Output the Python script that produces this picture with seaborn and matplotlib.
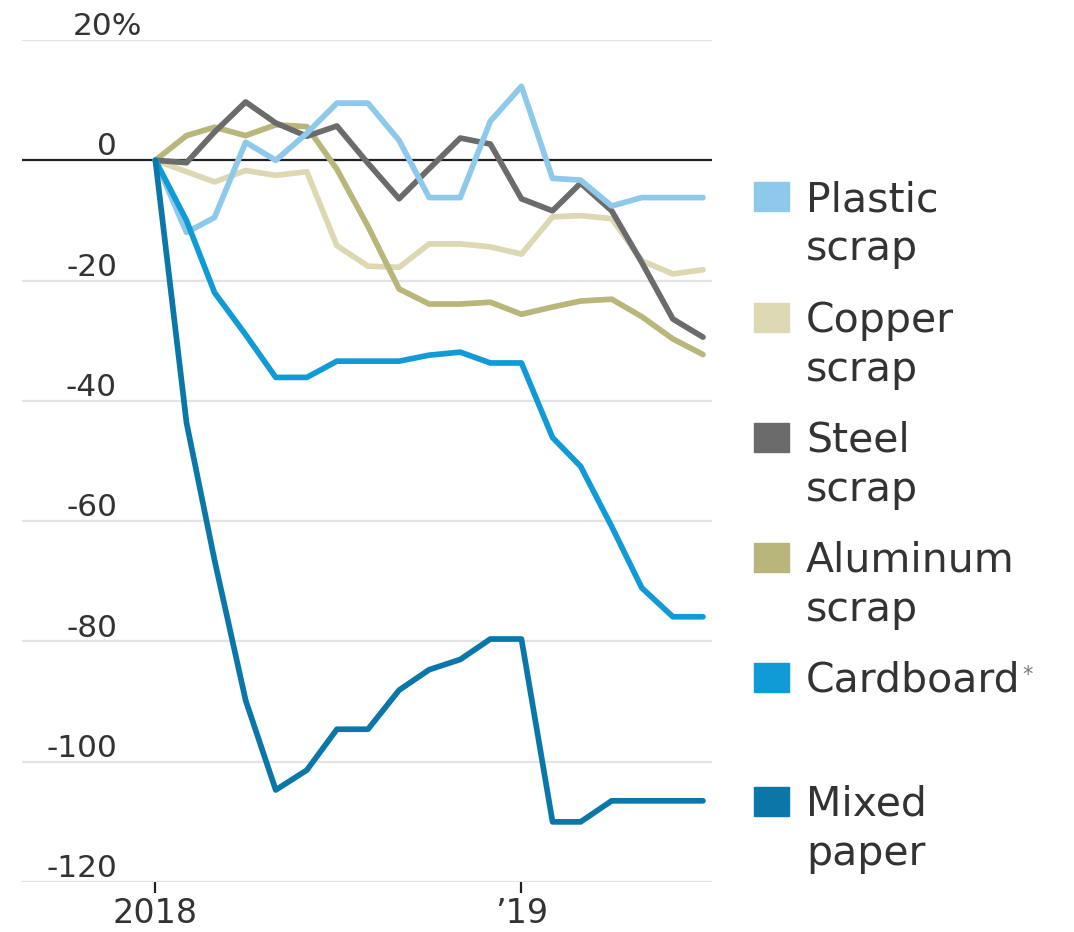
import numpy as np
import pandas as pd
import seaborn as sns
import matplotlib.pyplot as plt
from matplotlib.patches import Rectangle

# monthly change since January 2018, percent
months = pd.date_range('2018-01-01', periods=19, freq='MS')

plastic = [0, -12, -9.5, 3, 0, 4.5, 9.5, 9.5, 3.3, -6.2, -6.2, 6.5, 12.3, -3, -3.3, -7.6, -6.2, -6.2, -6.2]
copper = [0, -1.9, -3.6, -1.7, -2.5, -1.9, -14.2, -17.6, -17.8, -13.9, -13.9, -14.4, -15.6, -9.4, -9.2, -9.7, -16.7, -18.9, -18.2]
steel = [0, -0.4, 4.7, 9.7, 6.2, 4, 5.7, -0.5, -6.4, -1.4, 3.7, 2.7, -6.4, -8.4, -3.8, -8.4, -17, -26.4, -29.4]
aluminum = [0, 4.1, 5.5, 4.1, 5.9, 5.6, -1.5, -11, -21.4, -23.9, -23.9, -23.6, -25.6, -24.4, -23.4, -23.1, -26, -29.7, -32.3]
cardboard = [0, -10, -22, -29, -36.1, -36.1, -33.4, -33.4, -33.4, -32.4, -31.9, -33.7, -33.7, -46.1, -50.9, -60.9, -71.1, -75.9, -75.9]
mixed = [0, -43.6, -66.5, -89.8, -104.7, -101.4, -94.6, -94.6, -88.1, -84.7, -83, -79.6, -79.6, -110, -110, -106.5, -106.5, -106.5, -106.5]

materials = ['Copper scrap', 'Aluminum scrap', 'Steel scrap', 'Plastic scrap', 'Cardboard', 'Mixed paper']
series = [copper, aluminum, steel, plastic, cardboard, mixed]
colors = {'Plastic scrap': '#8ec9ec', 'Copper scrap': '#dcd8b4', 'Steel scrap': '#6b6b6b',
          'Aluminum scrap': '#b9b67c', 'Cardboard': '#119bd6', 'Mixed paper': '#0b77a8'}

y_ticks = [20, 0, -20, -40, -60, -80, -100, -120]

frames = []
for name, vals in zip(materials, series):
    frames.append(pd.DataFrame({'month': months, 'change': vals, 'material': name}))
df = pd.concat(frames, ignore_index=True)

sns.set_style('white')
plt.rcParams['font.family'] = ['DejaVu Sans']

W, H = 1074, 932
fig = plt.figure(figsize=(W / 100, H / 100), dpi=100)
ax = fig.add_axes([22 / W, 1 - 882 / H, 690 / W, 842 / H])

for v in y_ticks:
    if v == 0:
        ax.axhline(v, color='#222222', lw=1.6, zorder=3)
    else:
        ax.axhline(v, color='#e3e3e3', lw=1.6, zorder=0)

sns.lineplot(data=df, x='month', y='change', hue='material', hue_order=materials,
             palette=colors, linewidth=4.1, legend=False, ax=ax, zorder=4)

ax.set_ylim(-120, 20)
ax.set_xlim(pd.Timestamp('2017-08-21'), pd.Timestamp('2019-07-10'))
for s in ax.spines.values():
    s.set_visible(False)
ax.set_xlabel('')
ax.set_ylabel('')
ax.set_yticks([])
ax.set_xticks([pd.Timestamp('2018-01-01'), pd.Timestamp('2019-01-01')])
ax.set_xticklabels(['2018', '\u201919'], fontsize=24, color='#333333')
ax.tick_params(axis='x', length=8, width=1.6, color='#222222', pad=3, direction='out', bottom=True)

trans = ax.get_yaxis_transform()
for v in y_ticks:
    if v == 20:
        ax.text((73 - 22) / 690, v + 0.8, '20%', transform=trans, ha='left', va='baseline',
                fontsize=22.5, color='#333333')
    else:
        ax.text((117 - 22) / 690, v + 0.8, str(v), transform=trans, ha='right', va='baseline',
                fontsize=22.5, color='#333333')

# legend on the right
legend_items = [
    ('Plastic scrap', ['Plastic', 'scrap'], 182),
    ('Copper scrap', ['Copper', 'scrap'], 303),
    ('Steel scrap', ['Steel', 'scrap'], 423),
    ('Aluminum scrap', ['Aluminum', 'scrap'], 543),
    ('Cardboard', ['Cardboard'], 663),
    ('Mixed paper', ['Mixed', 'paper'], 787),
]
for key, lines, top in legend_items:
    fig.patches.append(Rectangle((754 / W, 1 - (top + 29) / H), 35 / W, 29 / H,
                                 transform=fig.transFigure, color=colors[key]))
    for k, line in enumerate(lines):
        t = fig.text(806 / W, 1 - (top + 29 + 49 * k) / H, line, ha='left', va='baseline',
                     fontsize=29.5, color='#333333')
        if key == 'Cardboard':
            ax.annotate('*', xy=(1, 1), xycoords=t, xytext=(1, -3), textcoords='offset points',
                        ha='left', va='top', fontsize=15, color='#777777', annotation_clip=False)

fig.savefig('out.png', dpi=100)
